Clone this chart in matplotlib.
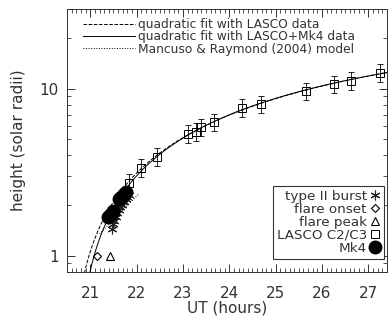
import numpy as np
import matplotlib
matplotlib.use("Agg")
import matplotlib.pyplot as plt
from matplotlib.ticker import MultipleLocator, LogLocator, FixedLocator, FixedFormatter, NullFormatter

# LASCO C2/C3 heights (UT hours, solar radii)
lasco_t = [21.84, 22.09, 22.43, 23.10, 23.29, 23.40, 23.68, 24.28, 24.68, 25.65, 26.25, 26.63, 27.25]
lasco_h = [2.74, 3.37, 3.92, 5.38, 5.53, 5.92, 6.34, 7.70, 8.13, 9.73, 10.7, 11.2, 12.5]
lasco_rel_err = 0.12

# Mk4 heights
mk4_t = [21.38, 21.42, 21.46, 21.50, 21.62, 21.67, 21.72, 21.77]
mk4_h = [1.70, 1.76, 1.80, 1.85, 2.18, 2.26, 2.35, 2.42]

# type II burst heights
burst_t = [21.47, 21.49, 21.52, 21.55, 21.58, 21.62, 21.65, 21.68, 21.72, 21.76, 21.80, 21.84]
burst_h = [1.45, 1.55, 1.62, 1.70, 1.80, 1.88, 1.95, 2.02, 2.10, 2.18, 2.25, 2.32]

onset_t, onset_h = [21.15], [1.0]
peak_t, peak_h = [21.43], [1.0]

# Mancuso & Raymond (2004) model
model_t = [21.2, 21.5, 21.8, 22.05]
model_h = [1.35, 1.65, 2.0, 2.35]

# quadratic fits
c_lasco = np.polyfit(lasco_t, lasco_h, 2)
c_all = np.polyfit(lasco_t + mk4_t, lasco_h + mk4_h, 2)
tt = np.linspace(20.5, 27.4, 400)

ink = '#333333'
fig = plt.figure(figsize=(3.88, 3.23), dpi=100)
ax = fig.add_axes([0.173, 0.158, 0.824, 0.814])

l1, = ax.plot(tt, np.polyval(c_lasco, tt), '--', color='k', lw=0.7,
              label='quadratic fit with LASCO data')
l2, = ax.plot(tt, np.polyval(c_all, tt), '-', color='k', lw=0.7,
              label='quadratic fit with LASCO+Mk4 data')
l3, = ax.plot(model_t, model_h, ':', color='k', lw=0.7,
              label='Mancuso & Raymond (2004) model')

pb, = ax.plot(burst_t, burst_h, ls='none', marker=(6, 2, 0), ms=7, mec='#222222', mew=0.8,
              label='type II burst')
po, = ax.plot(onset_t, onset_h, ls='none', marker='D', ms=4.5, mfc='none', mec='k', mew=0.8,
              label='flare onset')
pp, = ax.plot(peak_t, peak_h, ls='none', marker='^', ms=6, mfc='none', mec='k', mew=0.8,
              label='flare peak')
ax.errorbar(lasco_t, lasco_h, yerr=np.array(lasco_h) * lasco_rel_err, fmt='none',
            ecolor='k', elinewidth=0.6, capsize=2.5, capthick=0.6)
pl, = ax.plot(lasco_t, lasco_h, ls='none', marker='s', ms=6, mfc='none', mec='k', mew=0.7,
              label='LASCO C2/C3')
pm, = ax.plot(mk4_t, mk4_h, ls='none', marker='o', ms=9, mfc='k', mec='k',
              label='Mk4')

ax.set_yscale('log')
ax.set_xlim(20.5, 27.4)
ax.set_ylim(0.8, 30)
ax.xaxis.set_major_locator(MultipleLocator(1))
ax.xaxis.set_minor_locator(MultipleLocator(0.1))
ax.yaxis.set_major_locator(FixedLocator([1, 10]))
ax.yaxis.set_major_formatter(FixedFormatter(['1', '10']))
ax.yaxis.set_minor_locator(LogLocator(base=10, subs=np.arange(2, 10)))
ax.yaxis.set_minor_formatter(NullFormatter())
ax.tick_params(which='both', direction='in', top=True, right=True, colors=ink,
               labelsize=11, labelcolor=ink)
ax.tick_params(axis='x', which='major', length=6, width=0.7, pad=10)
ax.tick_params(axis='y', which='major', length=6, width=0.7, pad=6)
ax.tick_params(which='minor', length=3, width=0.6)
for s in ax.spines.values():
    s.set_linewidth(0.7)
    s.set_color(ink)

ax.set_xlabel('UT (hours)', fontsize=11, color=ink, labelpad=0)
ax.set_ylabel('height (solar radii)', fontsize=11, color=ink, labelpad=10)

leg1 = ax.legend(handles=[l1, l2, l3], loc='upper left', bbox_to_anchor=(0.035, 0.985),
                 frameon=False, fontsize=8.8, handlelength=4.2, handletextpad=0.3,
                 labelspacing=-0.05, borderaxespad=0)
for t in leg1.get_texts():
    t.set_color(ink)
ax.add_artist(leg1)

leg2 = ax.legend(handles=[pb, po, pp, pl, pm], loc='lower right',
                 bbox_to_anchor=(0.99, 0.05), markerfirst=False, fontsize=9.7,
                 handlelength=0.7, handletextpad=0.25, labelspacing=0.0,
                 borderpad=0.3, borderaxespad=0, fancybox=False, edgecolor=ink,
                 framealpha=1)
leg2.get_frame().set_linewidth(0.8)
for t in leg2.get_texts():
    t.set_color(ink)

fig.savefig('out.png', dpi=100)
